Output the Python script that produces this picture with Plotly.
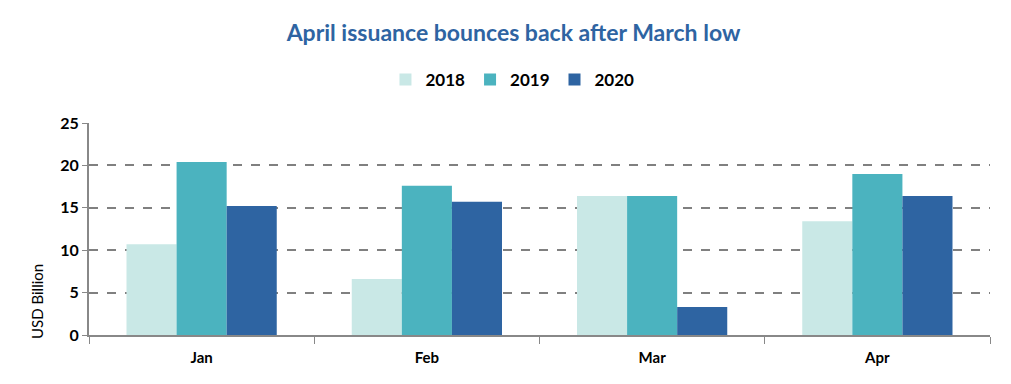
import plotly.graph_objects as go

months = ["Jan", "Feb", "Mar", "Apr"]
years = ["2018", "2019", "2020"]
v2018 = [10.7, 6.6, 16.4, 13.4]
v2019 = [20.4, 17.6, 16.4, 19.0]
v2020 = [15.2, 15.7, 3.3, 16.4]
colors = ["#C9E8E6", "#4BB3BF", "#2E64A2"]
tick_vals = [0, 5, 10, 15, 20, 25]

fig = go.Figure()
for name, vals, c in zip(years, [v2018, v2019, v2020], colors):
    fig.add_trace(go.Bar(x=months, y=vals, name=name, marker_color=c,
                         marker_line_width=0))

font_family = "Lato, 'Open Sans', sans-serif"
fig.update_layout(
    width=1011, height=384,
    paper_bgcolor="white", plot_bgcolor="white",
    margin=dict(l=81, r=29, t=115, b=57, autoexpand=False),
    barmode="group", bargap=0.333, bargroupgap=0,
    title=dict(text="<b>April issuance bounces back after March low</b>",
               x=0.5, xanchor="center", y=0.935, yanchor="middle",
               font=dict(family=font_family, size=23, color="#2E64A2")),
    legend=dict(orientation="h", x=0.47, xanchor="center", y=1.203, yanchor="middle",
                font=dict(family=font_family, size=17, color="black", weight="bold"),
                itemwidth=30, traceorder="normal"),
    font=dict(family=font_family),
)
fig.add_annotation(text="USD Billion", textangle=-90, xref="paper", yref="paper",
                   x=-0.0577, y=0.156, xanchor="center", yanchor="middle",
                   showarrow=False,
                   font=dict(family=font_family, size=15, color="black"))
fig.update_xaxes(showline=True, linecolor="#888888", linewidth=2,
                 ticks="outside", tickson="boundaries", ticklen=7,
                 tickcolor="#888888", tickwidth=1, ticklabelstandoff=8,
                 tickfont=dict(family=font_family, size=15, color="black", weight="bold"),
                 showgrid=False)
fig.update_yaxes(range=[0, 25], tickvals=tick_vals, showline=True, linecolor="#888888",
                 linewidth=2, ticks="outside", ticklen=5, tickcolor="#888888",
                 showgrid=True, gridcolor="#808080", griddash="dash", gridwidth=1.5,
                 zeroline=False,
                 tickfont=dict(family=font_family, size=16, color="black", weight="bold"))

fig.write_html("out.html")
